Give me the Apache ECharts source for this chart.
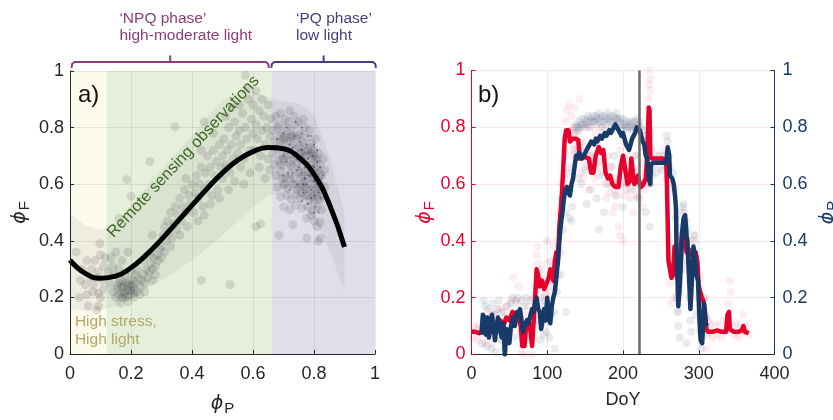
<!DOCTYPE html>
<html>
<head>
<meta charset="utf-8">
<script src="https://cdn.jsdelivr.net/npm/echarts/dist/echarts.min.js"></script>
<style>
  html, body { margin: 0; padding: 0; background: #ffffff; }
  #chart { width: 833px; height: 420px; }
</style>
</head>
<body>
<div id="chart"></div>
<script>
// ---------- Panel a: phi_F versus phi_P ----------
// light-regime zones along phi_P
const zoneEdges = [0, 0.12, 0.66, 1];
const zoneColors = ['#FDFBEC', '#E6EFDB', '#DFDEEB'];

// fitted relationship (black curve)
const fitX = [0, 0.05, 0.1, 0.15, 0.2, 0.25, 0.3, 0.35, 0.4, 0.45, 0.5, 0.55, 0.6, 0.65, 0.7, 0.75, 0.8, 0.85, 0.9];
const fitY = [0.332, 0.285, 0.268, 0.275, 0.305, 0.35, 0.405, 0.465, 0.525, 0.585, 0.64, 0.685, 0.715, 0.73, 0.725, 0.695, 0.635, 0.53, 0.378];

// envelope of remote sensing observations
const bandX = [0, 0.05, 0.1, 0.15, 0.2, 0.25, 0.3, 0.35, 0.4, 0.45, 0.5, 0.55, 0.6, 0.65, 0.7, 0.75, 0.8, 0.85, 0.9];
const bandHigh = [0.50, 0.455, 0.44, 0.465, 0.526, 0.588, 0.65, 0.712, 0.775, 0.837, 0.895, 0.925, 0.93, 0.905, 0.895, 0.885, 0.845, 0.70, 0.50];
const bandLow = [0.16, 0.15, 0.155, 0.17, 0.2, 0.23, 0.26, 0.295, 0.33, 0.375, 0.42, 0.47, 0.52, 0.56, 0.565, 0.53, 0.48, 0.37, 0.22];

// observations [phi_P, phi_F]
const obsPoints = [
  [0.02,0.36],[0.055,0.33],[0.082,0.33],[0.098,0.39],[0.1,0.35],[0.071,0.30],[0.093,0.29],[0.077,0.245],[0.05,0.245],[0.093,0.215],
  [0.06,0.17],[0.093,0.17],[0.088,0.155],[0.035,0.26],[0.065,0.27],[0.11,0.31],[0.105,0.26],[0.085,0.27],[0.04,0.3],[0.115,0.34],
  [0.075,0.22],[0.1,0.2],[0.11,0.23],[0.03,0.2],[0.055,0.21],
  [0.13,0.25],[0.14,0.22],[0.145,0.28],[0.15,0.2],[0.155,0.24],[0.16,0.21],[0.165,0.26],[0.17,0.22],[0.17,0.2],[0.175,0.24],
  [0.18,0.215],[0.185,0.23],[0.185,0.25],[0.19,0.205],[0.195,0.225],[0.2,0.24],[0.2,0.21],[0.205,0.26],[0.21,0.23],[0.215,0.25],
  [0.22,0.22],[0.225,0.27],[0.23,0.24],[0.235,0.26],[0.24,0.28],[0.245,0.25],[0.25,0.3],[0.255,0.27],[0.26,0.29],[0.265,0.32],
  [0.27,0.3],[0.275,0.34],[0.28,0.31],[0.285,0.35],[0.29,0.33],[0.295,0.37],[0.3,0.34],[0.14,0.31],[0.16,0.3],[0.18,0.28],
  [0.2,0.29],[0.22,0.3],[0.24,0.33],[0.26,0.35],[0.165,0.18],[0.19,0.185],[0.21,0.2],[0.23,0.21],[0.155,0.23],[0.175,0.255],
  [0.195,0.26],[0.215,0.28],[0.125,0.29],[0.135,0.34],[0.15,0.36],[0.17,0.33],[0.19,0.36],[0.245,0.22],[0.27,0.26],[0.28,0.28],
  [0.17,0.235],[0.18,0.2],[0.19,0.24],[0.2,0.225],[0.21,0.215],[0.175,0.21],[0.205,0.245],[0.16,0.25],
  [0.186,0.616],[0.2,0.557],[0.262,0.68],[0.344,0.803],[0.44,0.82],[0.43,0.26],[0.525,0.245],[0.61,0.45],[0.625,0.46],[0.16,0.48],[0.27,0.42],
  [0.3,0.38],[0.305,0.42],[0.31,0.45],[0.315,0.4],[0.32,0.47],[0.325,0.43],[0.33,0.5],[0.335,0.41],[0.34,0.46],[0.345,0.52],
  [0.35,0.44],[0.31,0.36],[0.33,0.38],
  [0.355,0.49],[0.36,0.55],[0.365,0.47],[0.37,0.52],[0.375,0.58],[0.38,0.5],[0.385,0.45],[0.39,0.56],[0.395,0.53],[0.4,0.6],[0.36,0.42],[0.38,0.62],
  [0.405,0.5],[0.41,0.57],[0.415,0.63],[0.42,0.55],[0.425,0.6],[0.43,0.66],[0.435,0.52],[0.44,0.58],[0.445,0.64],[0.45,0.7],[0.42,0.47],[0.44,0.49],[0.43,0.72],
  [0.455,0.6],[0.46,0.66],[0.465,0.56],[0.47,0.72],[0.475,0.63],[0.48,0.68],[0.485,0.58],[0.49,0.74],[0.495,0.66],[0.5,0.7],[0.47,0.78],[0.46,0.53],[0.49,0.55],[0.5,0.62],
  [0.505,0.76],[0.51,0.67],[0.515,0.72],[0.52,0.8],[0.525,0.64],[0.53,0.74],[0.535,0.69],[0.54,0.82],[0.545,0.77],[0.55,0.71],[0.52,0.58],[0.54,0.61],[0.51,0.84],[0.53,0.87],
  [0.555,0.79],[0.56,0.74],[0.565,0.85],[0.57,0.69],[0.575,0.8],[0.58,0.76],[0.585,0.9],[0.59,0.72],[0.595,0.83],[0.6,0.78],[0.575,0.985],[0.58,0.94],[0.56,0.66],[0.59,0.64],[0.555,0.88],[0.6,0.88],[0.57,0.6],
  [0.605,0.72],[0.61,0.81],[0.615,0.76],[0.62,0.86],[0.625,0.7],[0.63,0.79],[0.635,0.84],[0.64,0.74],[0.645,0.8],[0.65,0.69],[0.655,0.77],[0.66,0.83],[0.62,0.66],[0.64,0.62],[0.65,0.88],[0.63,0.9],[0.61,0.93],[0.655,0.65],
  [0.675,0.84],[0.69,0.85],[0.705,0.83],[0.72,0.86],[0.735,0.84],[0.75,0.82],[0.765,0.83],[0.685,0.81],[0.715,0.82],
  [0.665,0.79],[0.68,0.8],[0.695,0.78],[0.71,0.8],[0.725,0.79],[0.74,0.81],[0.755,0.78],[0.77,0.8],[0.785,0.79],[0.7,0.76],[0.73,0.77],
  [0.67,0.75],[0.685,0.77],[0.7,0.745],[0.715,0.765],[0.73,0.74],[0.745,0.76],[0.76,0.75],[0.775,0.765],[0.79,0.745],[0.805,0.76],[0.72,0.75],[0.765,0.735],
  [0.665,0.71],[0.68,0.725],[0.695,0.7],[0.71,0.72],[0.725,0.705],[0.74,0.725],[0.755,0.71],[0.77,0.72],[0.785,0.705],[0.8,0.72],[0.815,0.71],[0.76,0.695],[0.79,0.73],
  [0.67,0.67],[0.685,0.685],[0.7,0.665],[0.715,0.68],[0.73,0.66],[0.745,0.675],[0.76,0.665],[0.775,0.68],[0.79,0.665],[0.805,0.685],[0.82,0.67],[0.83,0.69],[0.755,0.69],[0.795,0.69],
  [0.675,0.63],[0.69,0.645],[0.705,0.625],[0.72,0.64],[0.735,0.62],[0.75,0.645],[0.765,0.63],[0.78,0.645],[0.795,0.625],[0.81,0.64],[0.825,0.63],[0.835,0.65],[0.77,0.61],[0.8,0.655],
  [0.68,0.59],[0.7,0.6],[0.715,0.585],[0.73,0.6],[0.745,0.58],[0.76,0.6],[0.775,0.585],[0.79,0.6],[0.805,0.58],[0.82,0.6],[0.835,0.59],[0.81,0.615],
  [0.69,0.555],[0.71,0.56],[0.725,0.545],[0.74,0.565],[0.755,0.55],[0.77,0.56],[0.785,0.545],[0.8,0.565],[0.815,0.55],[0.83,0.56],[0.8,0.54],
  [0.7,0.52],[0.72,0.51],[0.74,0.525],[0.76,0.515],[0.78,0.52],[0.795,0.505],[0.81,0.52],[0.825,0.51],
  [0.775,0.48],[0.8,0.47],[0.82,0.465],[0.81,0.45],[0.685,0.42],[0.731,0.457],[0.776,0.41],[0.814,0.398],[0.82,0.41],[0.79,0.49],
  [0.74,0.7],[0.75,0.73],[0.76,0.71],[0.77,0.7],[0.78,0.72],[0.79,0.71],[0.8,0.7],[0.81,0.69],[0.75,0.64],[0.76,0.62],
  [0.77,0.645],[0.78,0.62],[0.79,0.64],[0.8,0.63],[0.81,0.66],[0.82,0.64],[0.74,0.6],[0.755,0.59],[0.77,0.59],[0.785,0.58],
  [0.8,0.6],[0.815,0.59],[0.825,0.58],[0.76,0.57],[0.78,0.56],[0.795,0.555],[0.81,0.57],[0.82,0.545],[0.735,0.69],[0.725,0.67],
  [0.71,0.7],[0.7,0.69],[0.69,0.67],[0.72,0.62],[0.705,0.6],[0.695,0.62],[0.745,0.77],[0.725,0.77],[0.705,0.77],[0.69,0.75]
];
// high-frequency samples shown as fine dots
const obsDots = [
  [0.70,0.78],[0.72,0.74],[0.74,0.7],[0.75,0.66],[0.76,0.72],[0.77,0.62],[0.78,0.69],[0.79,0.58],[0.8,0.66],[0.81,0.6],
  [0.82,0.55],[0.805,0.52],[0.73,0.64],[0.745,0.6],[0.765,0.57],[0.785,0.63],[0.795,0.7],[0.81,0.68],[0.825,0.62],[0.815,0.57],
  [0.71,0.68],[0.725,0.71],[0.735,0.77],[0.755,0.75],[0.775,0.74],[0.69,0.72],[0.7,0.63],[0.72,0.58],[0.76,0.54],[0.78,0.53],
  [0.8,0.5],[0.83,0.58],[0.79,0.77],[0.76,0.8],[0.74,0.82],[0.68,0.76],[0.71,0.8],[0.77,0.66],[0.8,0.61],[0.82,0.66],
  [0.775,0.6],[0.79,0.55],[0.805,0.63],[0.815,0.5],[0.82,0.6],[0.795,0.665],[0.785,0.71],[0.765,0.69],[0.75,0.7],[0.73,0.73],
  [0.715,0.64],[0.7,0.7],[0.76,0.78],[0.78,0.77],[0.8,0.74],[0.81,0.72],[0.83,0.63],[0.745,0.65],[0.765,0.6],[0.8,0.56]
];

// ---------- Panel b: seasonal course ----------
const redLine = [
  [0,0.08],[5,0.08],[10,0.075],[14,0.08],[18,0.09],[22,0.1],[26,0.08],[30,0.11],[34,0.09],[38,0.12],[42,0.1],[46,0.13],
  [50,0.12],[54,0.15],[58,0.14],[62,0.13],[65,0.1],[67,0.03],[70,0.03],[72,0.1],[75,0.12],[78,0.08],[80,0.03],[82,0.03],
  [84,0.2],[86,0.3],[88,0.28],[90,0.24],[93,0.26],[96,0.23],[99,0.25],[102,0.27],[104,0.3],[106,0.29],[108,0.26],[110,0.33],
  [112,0.36],[114,0.32],[116,0.45],[119,0.55],[121,0.65],[123,0.76],[125,0.79],[128,0.79],[130,0.75],[133,0.76],[137,0.76],
  [141,0.755],[143,0.69],[150,0.695],[155,0.69],[158,0.64],[161,0.64],[164,0.7],[168,0.73],[171,0.71],[174,0.72],[177,0.64],
  [180,0.62],[183,0.63],[186,0.6],[190,0.59],[194,0.59],[197,0.66],[200,0.70],[203,0.65],[206,0.6],[209,0.61],[211,0.69],
  [213,0.64],[215,0.6],[218,0.62],[220,0.63],[222,0.6],[224,0.59],[227,0.6],[230,0.62],[232,0.7],[234,0.87],[235,0.86],
  [236,0.7],[238,0.69],[245,0.69],[252,0.69],[257,0.685],[258,0.6],[260,0.33],[262,0.3],[264,0.27],[266,0.28],[268,0.38],
  [270,0.3],[272,0.27],[275,0.33],[278,0.43],[281,0.4],[284,0.36],[287,0.37],[290,0.35],[293,0.34],[296,0.36],[298,0.33],
  [300,0.24],[302,0.22],[304,0.2],[306,0.19],[308,0.16],[310,0.09],[312,0.08],[318,0.08],[324,0.085],[330,0.08],[336,0.08],
  [338,0.14],[340,0.15],[341,0.09],[346,0.08],[352,0.08],[357,0.085],[359,0.1],[361,0.08],[366,0.075]
];
const blueLine = [
  [13,0.07],[15,0.14],[17,0.13],[19,0.07],[21,0.13],[23,0.06],[25,0.1],[27,0.14],[29,0.1],[31,0.05],[33,0.1],[35,0.13],
  [37,0.09],[40,0.06],[42,0.11],[44,0.0],[46,0.09],[48,0.07],[50,0.04],[52,0.1],[55,0.13],[57,0.1],[60,0.15],[62,0.14],
  [64,0.16],[66,0.12],[68,0.08],[70,0.1],[73,0.12],[75,0.11],[78,0.14],[80,0.16],[82,0.15],[84,0.18],[86,0.2],[88,0.16],
  [90,0.15],[92,0.09],[94,0.12],[96,0.16],[98,0.12],[100,0.2],[102,0.13],[104,0.11],[106,0.17],[108,0.2],[110,0.22],
  [112,0.27],[114,0.33],[116,0.4],[118,0.46],[120,0.5],[122,0.55],[124,0.58],[126,0.59],[128,0.57],[130,0.56],[132,0.6],
  [134,0.62],[136,0.66],[138,0.7],[140,0.69],[142,0.71],[144,0.7],[146,0.69],[148,0.7],[150,0.7],[152,0.72],[154,0.73],
  [156,0.74],[158,0.75],[160,0.75],[162,0.74],[164,0.76],[166,0.75],[168,0.76],[170,0.77],[172,0.76],[174,0.77],[176,0.78],
  [178,0.77],[180,0.78],[182,0.79],[184,0.78],[186,0.79],[188,0.8],[190,0.81],[192,0.81],[194,0.79],[196,0.78],[198,0.77],
  [200,0.78],[202,0.76],[204,0.74],[206,0.73],[208,0.72],[210,0.74],[212,0.76],[214,0.77],[216,0.78],[218,0.8],[220,0.8],
  [222,0.79],[224,0.79],[226,0.75],[228,0.74],[230,0.7],[232,0.69],[234,0.62],[236,0.6],[237,0.67],[240,0.675],[250,0.675],
  [257,0.675],[259,0.73],[261,0.7],[262,0.63],[265,0.62],[267,0.6],[269,0.55],[270,0.51],[271,0.3],[272,0.26],[273,0.17],
  [275,0.24],[277,0.35],[278,0.43],[280,0.48],[282,0.49],[284,0.42],[285,0.4],[287,0.28],[289,0.16],[291,0.26],[293,0.38],
  [295,0.35],[297,0.28],[299,0.26],[301,0.12],[302.5,0.05],[304.5,0.04],[306,0.12],[307,0.18],[309,0.11],[311,0.1]
];
const redObs = [
  [2,0.06],[4,0.1],[6,0.09],[8,0.05],[10,0.1],[12,0.07],[15,0.12],[18,0.04],[20,0.13],[23,0.06],[26,0.15],[28,0.04],
  [31,0.14],[34,0.07],[37,0.16],[40,0.05],[43,0.15],[46,0.17],[49,0.08],[52,0.19],[55,0.27],[57,0.12],[60,0.18],[62,0.24],
  [64,0.08],[66,0.01],[68,0.06],[70,0.0],[72,0.14],[74,0.17],[76,0.06],[78,0.12],[80,0.0],[82,0.06],[84,0.24],[86,0.35],
  [87,0.38],[88,0.32],[90,0.2],[92,0.3],[94,0.2],[96,0.28],[98,0.21],[100,0.32],[102,0.22],[104,0.33],[106,0.26],[108,0.38],
  [110,0.3],[112,0.4],[114,0.28],[116,0.5],[118,0.6],[120,0.55],[122,0.72],[124,0.82],[126,0.86],[128,0.88],[130,0.7],
  [132,0.84],[134,0.8],[136,0.87],[138,0.72],[140,0.78],[142,0.9],[144,0.64],[146,0.75],[148,0.62],[150,0.73],[152,0.66],
  [154,0.8],[156,0.7],[158,0.58],[160,0.74],[162,0.62],[164,0.78],[166,0.66],[168,0.68],[170,0.8],[172,0.64],[174,0.78],
  [176,0.6],[178,0.55],[180,0.7],[182,0.57],[184,0.66],[186,0.5],[188,0.62],[190,0.52],[192,0.6],[194,0.45],[196,0.72],
  [198,0.6],[200,0.75],[202,0.56],[204,0.58],[206,0.7],[208,0.64],[210,0.55],[212,0.62],[214,0.5],[216,0.7],[218,0.56],
  [220,0.66],[222,0.55],[224,0.6],[226,0.52],[228,0.68],[230,0.62],[233,0.75],[234,0.9],[234.5,0.95],[235,1.0],[235.5,0.97],
  [236,0.93],[234,0.82],[236,0.78],[235,0.6],[238,0.72],[242,0.68],[246,0.7],[250,0.66],[254,0.72],[258,0.62],[260,0.35],
  [262,0.25],[264,0.18],[266,0.3],[268,0.2],[270,0.36],[272,0.15],[274,0.42],[276,0.36],[278,0.5],[280,0.42],[282,0.3],
  [284,0.4],[286,0.33],[288,0.25],[290,0.4],[292,0.3],[294,0.42],[296,0.32],[298,0.3],[300,0.24],[302,0.27],[304,0.15],
  [306,0.2],[308,0.1],[310,0.02],[312,0.07],[315,0.1],[318,0.06],[321,0.11],[324,0.07],[327,0.1],[330,0.06],[333,0.12],
  [336,0.08],[339,0.18],[341,0.26],[342,0.22],[344,0.1],[347,0.07],[350,0.11],[353,0.06],[356,0.1],[359,0.14],[361,0.08],
  [364,0.1],[366,0.07],[200,0.4],[196,0.42],
  [127,0.76],[131,0.79],[135,0.74],[139,0.7],[145,0.7],[149,0.68],[153,0.72],[157,0.66],[163,0.68],[167,0.74],[173,0.7],
  [179,0.64],[185,0.6],[189,0.58],[193,0.56],[199,0.66],[205,0.62],[211,0.66],[215,0.58],[219,0.62],[225,0.64],[229,0.58]
];
const blueObs = [
  [14,0.04],[16,0.19],[18,0.17],[20,0.03],[22,0.16],[24,0.12],[26,0.02],[28,0.18],[30,0.14],[32,0.01],[34,0.16],[36,0.19],
  [38,0.05],[40,0.15],[43,0.02],[45,0.13],[47,0.17],[50,0.08],[52,0.18],[54,0.2],[56,0.06],[58,0.19],[61,0.2],[63,0.11],
  [66,0.19],[68,0.05],[70,0.17],[72,0.2],[74,0.07],[77,0.19],[79,0.1],[82,0.2],[84,0.12],[87,0.23],[89,0.1],[91,0.05],
  [93,0.17],[95,0.07],[97,0.19],[99,0.08],[101,0.16],[103,0.06],[105,0.14],[107,0.24],[109,0.15],[111,0.3],[113,0.22],
  [115,0.38],[117,0.36],[119,0.55],[121,0.44],[123,0.62],[125,0.5],[127,0.64],[129,0.48],[131,0.66],[133,0.52],[135,0.72],
  [125,0.15],[118,0.28],[110,0.02],[100,0.4],
  [136,0.78],[138,0.81],[140,0.8],[142,0.82],[144,0.8],[146,0.83],[148,0.81],[150,0.83],[152,0.82],[154,0.84],[156,0.82],
  [158,0.83],[160,0.84],[162,0.82],[164,0.84],[166,0.83],[168,0.85],[170,0.83],[172,0.84],[174,0.82],[176,0.84],[178,0.83],
  [180,0.85],[182,0.83],[184,0.84],[186,0.82],[188,0.84],[190,0.83],[192,0.85],[194,0.82],[196,0.83],[198,0.81],[200,0.83],
  [202,0.81],[204,0.82],[206,0.8],[208,0.82],[210,0.81],[212,0.82],[214,0.8],[216,0.82],[218,0.83],[220,0.81],[222,0.82],
  [224,0.8],[226,0.79],[228,0.77],[230,0.75],
  [137,0.8],[141,0.79],[145,0.81],[149,0.8],[153,0.81],[157,0.8],[161,0.82],[165,0.81],[169,0.82],[173,0.8],[177,0.81],
  [181,0.82],[185,0.8],[189,0.81],[193,0.83],[197,0.8],[201,0.8],[205,0.79],[209,0.8],[213,0.79],[217,0.8],[221,0.79],
  [140,0.62],[145,0.6],[150,0.65],[155,0.58],[160,0.67],[165,0.55],[170,0.63],[175,0.5],[180,0.6],[185,0.66],[190,0.56],
  [195,0.62],[200,0.52],[205,0.6],[210,0.58],[215,0.64],[220,0.55],[225,0.6],[230,0.5],[235,0.45],[142,0.72],[158,0.7],
  [172,0.72],[188,0.7],[203,0.68],[218,0.7],[132,0.47],[152,0.53],[168,0.44],
  [236,0.6],[238,0.63],[240,0.66],[244,0.64],[248,0.7],[252,0.65],[256,0.7],[258,0.77],[259,0.75],[261,0.7],[262,0.66],
  [264,0.6],[266,0.64],[268,0.58],[270,0.48],[271,0.2],[272,0.15],[273,0.1],[274,0.22],[276,0.3],[278,0.45],[279,0.52],
  [280,0.53],[281,0.5],[283,0.47],[285,0.44],[286,0.32],[288,0.2],[289,0.12],[290,0.08],[292,0.3],[294,0.42],[295,0.4],
  [296,0.32],[298,0.3],[300,0.2],[302,0.08],[303,0.02],[305,0.06],[306,0.15],[308,0.2],[310,0.13],[312,0.12],[275,0.06],
  [284,0.04],[297,0.14]
];
const markerDoY = 221;

// ---------- styling ----------
const FONT = '"Liberation Sans", Arial, Helvetica, sans-serif';
const INK = '#262626';
const RED = '#E8002D';
const NAVY = '#173A68';
const NPQ = '#8C3D7E';
const PQ = '#463E80';

const frac = v => (v === 0 ? '0' : v === 1 ? '1' : String(+v.toFixed(1)));
const symName = (color) => ({
  rich: {
    p: { fontFamily: '"DejaVu Sans", sans-serif', fontStyle: 'italic', fontSize: 19, color: color },
    s: { fontFamily: FONT, fontSize: 15, color: color, padding: [9, 0, 0, 1] }
  }
});

function valueAxis(extra) {
  return Object.assign({
    type: 'value', min: 0, max: 1, interval: 0.2, z: 5,
    axisLine: { show: true, lineStyle: { color: INK, width: 1 } },
    axisTick: { show: true, inside: true, length: 4, lineStyle: { color: INK } },
    axisLabel: { fontFamily: FONT, fontSize: 18, color: INK, formatter: frac },
    splitLine: { show: true, lineStyle: { color: 'rgba(0,0,0,0.08)', width: 1 } },
    nameMoveOverlap: false
  }, extra);
}

const chart = echarts.init(document.getElementById('chart'), null, { renderer: 'canvas' });

const option = {
  animation: false,
  backgroundColor: '#ffffff',
  grid: [
    { left: 70, top: 71, width: 305, height: 283, outerBoundsMode: 'none', containLabel: false },
    { left: 471.5, top: 70.5, width: 303, height: 284, outerBoundsMode: 'none', containLabel: false }
  ],
  xAxis: [
    valueAxis({ gridIndex: 0, axisLabel: { fontFamily: FONT, fontSize: 18, color: INK, formatter: frac, margin: 11 },
      name: '{p|ϕ}{s|P}', nameLocation: 'middle', nameGap: 38, nameTextStyle: symName(INK) }),
    valueAxis({ gridIndex: 1, max: 400, interval: 100,
      axisLabel: { fontFamily: FONT, fontSize: 18, color: INK, margin: 11 },
      name: 'DoY', nameLocation: 'middle', nameGap: 37,
      nameTextStyle: { fontFamily: FONT, fontSize: 18, color: INK } })
  ],
  yAxis: [
    valueAxis({ gridIndex: 0, axisLabel: { fontFamily: FONT, fontSize: 18, color: INK, formatter: frac, margin: 6 },
      name: '{p|ϕ}{s|F}', nameLocation: 'middle', nameRotate: 90, nameGap: 38, nameTextStyle: symName(INK) }),
    valueAxis({ gridIndex: 1, position: 'left',
      axisLine: { show: true, lineStyle: { color: RED, width: 1 } },
      axisTick: { show: true, inside: true, length: 4, lineStyle: { color: RED } },
      axisLabel: { fontFamily: FONT, fontSize: 18, color: RED, formatter: frac, margin: 6 },
      splitLine: { show: true, lineStyle: { color: 'rgba(232,0,45,0.10)', width: 1 } },
      name: '{p|ϕ}{s|F}', nameLocation: 'middle', nameRotate: 90, nameGap: 34, nameTextStyle: symName(RED) }),
    valueAxis({ gridIndex: 1, position: 'right',
      axisLine: { show: true, lineStyle: { color: NAVY, width: 1 } },
      axisTick: { show: true, inside: true, length: 4, lineStyle: { color: NAVY } },
      axisLabel: { fontFamily: FONT, fontSize: 18, color: NAVY, formatter: frac, margin: 8 },
      splitLine: { show: false },
      name: '{p|ϕ}{s|P}', nameLocation: 'middle', nameRotate: 90, nameGap: 42, nameTextStyle: symName(NAVY) })
  ],
  series: [
    {
      // coloured light-regime zones
      type: 'custom', xAxisIndex: 0, yAxisIndex: 0, z: 1, silent: true,
      data: zoneEdges.slice(0, -1).map((e, i) => [e, zoneEdges[i + 1]]),
      renderItem: (params, api) => {
        const a = api.coord([api.value(0), 1]);
        const b = api.coord([api.value(1), 0]);
        return { type: 'rect', shape: { x: a[0], y: a[1], width: b[0] - a[0], height: b[1] - a[1] },
                 style: { fill: zoneColors[params.dataIndex] } };
      }
    },
    {
      // observation envelope
      type: 'custom', xAxisIndex: 0, yAxisIndex: 0, z: 2, silent: true,
      data: [[0, 0]],
      renderItem: (params, api) => {
        const upper = bandX.map((x, i) => api.coord([x, bandHigh[i]]));
        const lower = bandX.map((x, i) => api.coord([x, bandLow[i]])).reverse();
        return { type: 'polygon', shape: { points: upper.concat(lower) },
                 style: { fill: 'rgba(95,95,100,0.09)' } };
      }
    },
    {
      type: 'scatter', xAxisIndex: 0, yAxisIndex: 0, z: 3, silent: true,
      symbol: 'circle', symbolSize: 9, data: obsPoints,
      itemStyle: { color: 'rgba(58,60,64,0.19)' }
    },
    {
      type: 'scatter', xAxisIndex: 0, yAxisIndex: 0, z: 3, silent: true,
      symbol: 'circle', symbolSize: 2, data: obsDots,
      itemStyle: { color: 'rgba(30,30,35,0.6)' }
    },
    {
      type: 'line', xAxisIndex: 0, yAxisIndex: 0, z: 4, silent: true,
      data: fitX.map((x, i) => [x, fitY[i]]), smooth: true, showSymbol: false,
      lineStyle: { color: '#000000', width: 5 }
    },
    {
      type: 'scatter', xAxisIndex: 1, yAxisIndex: 1, z: 3, silent: true,
      symbol: 'circle', symbolSize: 8, data: redObs,
      itemStyle: { color: 'rgba(232,0,45,0.09)' }
    },
    {
      type: 'scatter', xAxisIndex: 1, yAxisIndex: 2, z: 3, silent: true,
      symbol: 'circle', symbolSize: 8, data: blueObs,
      itemStyle: { color: 'rgba(40,62,100,0.13)' }
    },
    {
      type: 'line', xAxisIndex: 1, yAxisIndex: 1, z: 4, silent: true,
      data: redLine, showSymbol: false,
      lineStyle: { color: RED, width: 4.5, join: 'round' }
    },
    {
      type: 'line', xAxisIndex: 1, yAxisIndex: 2, z: 4, silent: true,
      data: blueLine, showSymbol: false,
      lineStyle: { color: NAVY, width: 4.5, join: 'round' },
      markLine: {
        silent: true, symbol: ['none', 'none'], animation: false,
        label: { show: false },
        lineStyle: { color: '#6a6a6a', width: 2.5, type: 'solid' },
        data: [{ xAxis: markerDoY }]
      }
    }
  ]
};
chart.setOption(option);

// ---------- annotations placed in data coordinates ----------
const A = (x, y) => chart.convertToPixel({ xAxisIndex: 0, yAxisIndex: 0 }, [x, y]);
const B = (x, y) => chart.convertToPixel({ xAxisIndex: 1, yAxisIndex: 1 }, [x, y]);

function bracket(x0, x1, color) {
  const l = A(x0, 1.032), r = A(x1, 1.032), c = A((x0 + x1) / 2, 1.032);
  const yb = l[1];
  return [
    { type: 'polyline', z: 10, silent: true,
      shape: { points: [[l[0], yb + 6], [l[0] + 0.6, yb + 2], [l[0] + 3, yb], [r[0] - 3, yb], [r[0] - 0.6, yb + 2], [r[0], yb + 6]] },
      style: { stroke: color, lineWidth: 2, fill: null } },
    { type: 'line', z: 10, silent: true,
      shape: { x1: c[0], y1: yb, x2: c[0], y2: yb - 6.5 },
      style: { stroke: color, lineWidth: 2 } }
  ];
}

const tA = A(0.026, 0.955);
const tB = B(8.5, 0.955);
const tRS = A(0.372, 0.697);
const tHS = A(0.016, 0.083);
const tNPQ = A(0.162, 1.154);
const tPQ = A(0.741, 1.154);

chart.setOption({
  graphic: [
    ...bracket(0.005, 0.652, NPQ),
    ...bracket(0.66, 1.003, PQ),
    { type: 'text', z: 10, silent: true, x: tNPQ[0], y: tNPQ[1],
      style: { text: '‘NPQ phase’\nhigh-moderate light', fill: NPQ, font: '15.5px ' + FONT,
               lineHeight: 17, align: 'left', verticalAlign: 'middle' } },
    { type: 'text', z: 10, silent: true, x: tPQ[0], y: tPQ[1],
      style: { text: '‘PQ phase’\nlow light', fill: PQ, font: '15.5px ' + FONT,
               lineHeight: 17, align: 'left', verticalAlign: 'middle' } },
    { type: 'text', z: 10, silent: true, x: tA[0], y: tA[1],
      style: { text: 'a)', fill: '#111111', font: '24px ' + FONT, align: 'left', verticalAlign: 'top' } },
    { type: 'text', z: 10, silent: true, x: tB[0], y: tB[1],
      style: { text: 'b)', fill: '#111111', font: '24px ' + FONT, align: 'left', verticalAlign: 'top' } },
    { type: 'text', z: 10, silent: true, x: tRS[0], y: tRS[1], rotation: 47 * Math.PI / 180,
      style: { text: 'Remote sensing observations', fill: '#3B6A1F', font: '16.3px ' + FONT,
               align: 'center', verticalAlign: 'middle' } },
    { type: 'text', z: 10, silent: true, x: tHS[0], y: tHS[1],
      style: { text: 'High stress,\nHigh light', fill: '#B3A76A', font: '15.5px ' + FONT,
               lineHeight: 18, align: 'left', verticalAlign: 'middle' } }
  ]
});
</script>
</body>
</html>
